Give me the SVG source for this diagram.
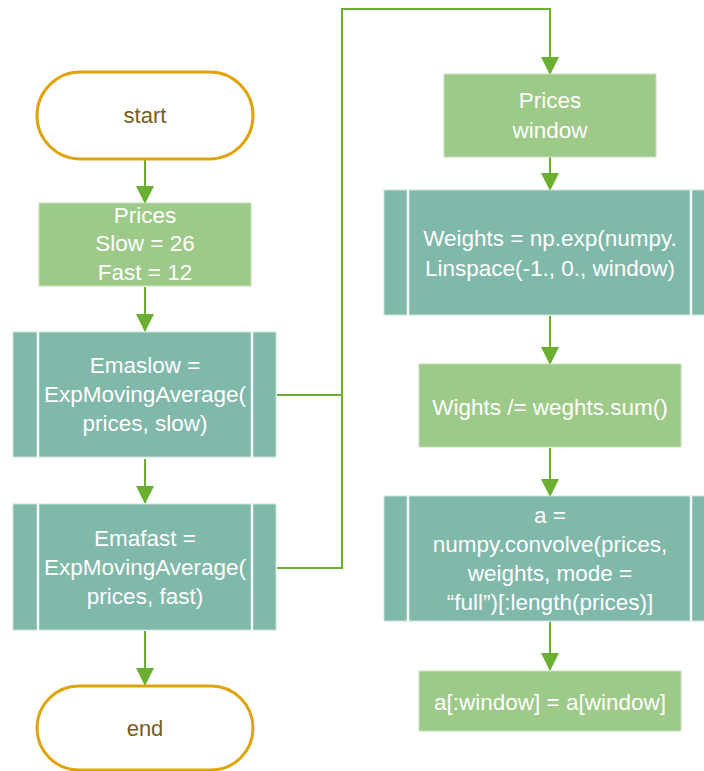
<svg xmlns="http://www.w3.org/2000/svg" width="704" height="771" viewBox="0 0 704 771">
  <style>
    .term { fill: #ffffff; stroke: #E0A40A; stroke-width: 3; }
    .term-text { fill: #7A5C1E; font-family: "Liberation Sans", Arial, sans-serif; font-size: 22px; text-anchor: middle; }
    .proc { fill: #9DCA88; stroke: #C6E2B8; stroke-width: 1; }
    .sub { fill: #80B8AA; stroke: #C9E3DC; stroke-width: 1; }
    .sep { stroke: #F4FAF8; stroke-width: 2.5; }
    .label { fill: #ffffff; font-family: "Liberation Sans", Arial, sans-serif; font-size: 22.5px; text-anchor: middle; }
    .edge { fill: none; stroke: #6AAF30; stroke-width: 2; }
  </style>
  <defs>
    <marker id="arrow" markerUnits="userSpaceOnUse" markerWidth="18" markerHeight="20" refX="17" refY="9" orient="auto">
      <path d="M0,0 L18,9 L0,18 Z" fill="#6AAF30"/>
    </marker>
  </defs>

  <rect width="704" height="771" fill="#ffffff"/>

  <!-- connectors -->
  <g id="connectors">
    <path class="edge" d="M145,159 V203" marker-end="url(#arrow)"/>
    <path class="edge" d="M145,287 V331" marker-end="url(#arrow)"/>
    <path class="edge" d="M145,459 V503" marker-end="url(#arrow)"/>
    <path class="edge" d="M145,631 V685" marker-end="url(#arrow)"/>
    <path class="edge" d="M277,395 H342"/>
    <path class="edge" d="M277,568 H342 V9 H550 V74" marker-end="url(#arrow)"/>
    <path class="edge" d="M550,157 V190" marker-end="url(#arrow)"/>
    <path class="edge" d="M550,316 V364" marker-end="url(#arrow)"/>
    <path class="edge" d="M550,448 V496" marker-end="url(#arrow)"/>
    <path class="edge" d="M550,622 V670" marker-end="url(#arrow)"/>
  </g>

  <!-- left column -->
  <g id="start">
    <rect class="term" x="37" y="72" width="216" height="87" rx="43.5"/>
    <text class="term-text" x="145" y="123">start</text>
  </g>

  <g id="init">
    <rect class="proc" x="39" y="203" width="212" height="83"/>
    <text class="label" x="145" y="223">Prices</text>
    <text class="label" x="145" y="251">Slow = 26</text>
    <text class="label" x="145" y="280">Fast = 12</text>
  </g>

  <g id="emaslow">
    <rect class="sub" x="13" y="332" width="263" height="125"/>
    <line class="sep" x1="38" y1="332" x2="38" y2="457"/>
    <line class="sep" x1="252" y1="332" x2="252" y2="457"/>
    <text class="label" x="145" y="373">Emaslow =</text>
    <text class="label" x="145" y="402">ExpMovingAverage(</text>
    <text class="label" x="145" y="431">prices, slow)</text>
  </g>

  <g id="emafast">
    <rect class="sub" x="13" y="504" width="263" height="126"/>
    <line class="sep" x1="38" y1="504" x2="38" y2="630"/>
    <line class="sep" x1="252" y1="504" x2="252" y2="630"/>
    <text class="label" x="145" y="546">Emafast =</text>
    <text class="label" x="145" y="575">ExpMovingAverage(</text>
    <text class="label" x="145" y="604">prices, fast)</text>
  </g>

  <g id="end">
    <rect class="term" x="37" y="686" width="216" height="84" rx="42"/>
    <text class="term-text" x="145" y="736">end</text>
  </g>

  <!-- right column -->
  <g id="inputs">
    <rect class="proc" x="444" y="74" width="212" height="83"/>
    <text class="label" x="550" y="108">Prices</text>
    <text class="label" x="550" y="138">window</text>
  </g>

  <g id="weights">
    <rect class="sub" x="384" y="190" width="332" height="125"/>
    <line class="sep" x1="408" y1="190" x2="408" y2="315"/>
    <line class="sep" x1="691" y1="190" x2="691" y2="315"/>
    <text class="label" x="550" y="246">Weights = np.exp(numpy.</text>
    <text class="label" x="550" y="276">Linspace(-1., 0., window)</text>
  </g>

  <g id="normalize">
    <rect class="proc" x="419" y="364" width="262" height="83"/>
    <text class="label" x="550" y="415">Wights /= weghts.sum()</text>
  </g>

  <g id="convolve">
    <rect class="sub" x="384" y="496" width="332" height="125"/>
    <line class="sep" x1="408" y1="496" x2="408" y2="621"/>
    <line class="sep" x1="691" y1="496" x2="691" y2="621"/>
    <text class="label" x="550" y="523">a =</text>
    <text class="label" x="550" y="552">numpy.convolve(prices,</text>
    <text class="label" x="550" y="581">weights, mode =</text>
    <text class="label" x="550" y="610">“full”)[:length(prices)]</text>
  </g>

  <g id="fill">
    <rect class="proc" x="419" y="671" width="262" height="60"/>
    <text class="label" x="550" y="710">a[:window] = a[window]</text>
  </g>
</svg>
